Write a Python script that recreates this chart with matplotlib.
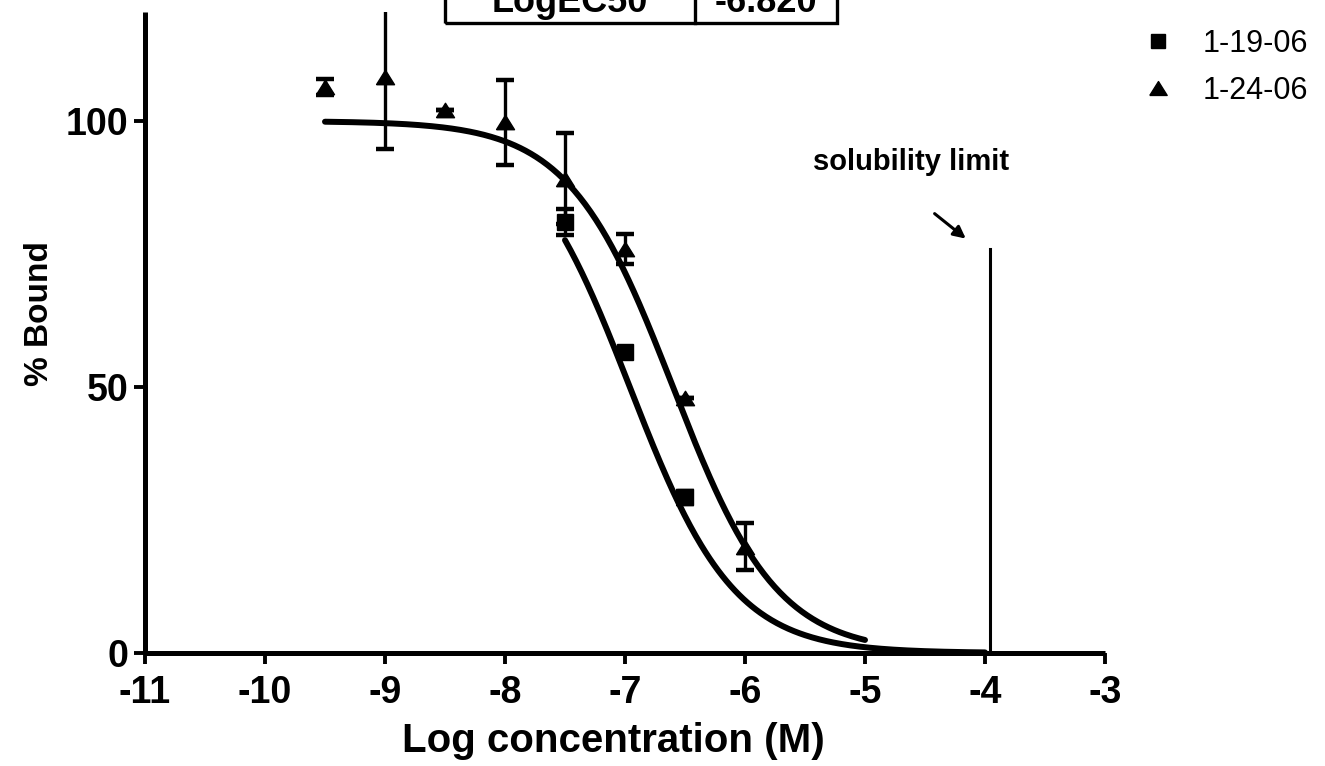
import numpy as np
import matplotlib
matplotlib.use("Agg")
import matplotlib.pyplot as plt
from matplotlib.lines import Line2D
from matplotlib.patches import Rectangle

plt.rcParams['font.family'] = ['Liberation Sans', 'DejaVu Sans']

# --- data -------------------------------------------------------------
series_labels = ["1-19-06", "1-24-06"]

sq_x = [-7.5, -7.0, -6.5]
sq_y = [81.0, 56.5, 29.3]
sq_err = [2.4, 0.8, 1.2]

tri_x = [-9.5, -9.0, -8.5, -8.0, -7.5, -7.0, -6.5, -6.0]
tri_y = [106.4, 108.2, 102.0, 99.8, 89.2, 76.0, 48.0, 20.0]
tri_err = [1.5, 13.4, 0.0, 8.0, 8.6, 2.8, 0.0, 4.4]

# sigmoidal dose-response fits: top, bottom, logEC50, hill slope, x-range
fit_sq = dict(top=100.0, bottom=0.0, logec50=-6.96, hill=1.0, xmin=-7.5, xmax=-4.0)
fit_tri = dict(top=100.0, bottom=0.0, logec50=-6.60, hill=1.0, xmin=-9.5, xmax=-5.0)

table_cells = ["LogEC50", "-6.820"]

solubility_x = -3.96
solubility_top = 76.0

x_ticks = [-11, -10, -9, -8, -7, -6, -5, -4, -3]
y_ticks = [0, 50, 100]


def dose_response(p, n=300):
    x = np.linspace(p["xmin"], p["xmax"], n)
    y = p["bottom"] + (p["top"] - p["bottom"]) / (1 + 10 ** ((x - p["logec50"]) * p["hill"]))
    return x, y


# --- figure -----------------------------------------------------------
W, H = 1325, 766
fig = plt.figure(figsize=(W / 100, H / 100), dpi=100)
ax = fig.add_axes([145 / W, (H - 653) / H, 960 / W, 641 / H])

ax.set_xlim(-11, -3)
ax.set_ylim(0, 120.5)

for s in ("top", "right"):
    ax.spines[s].set_visible(False)
for s in ("left", "bottom"):
    ax.spines[s].set_linewidth(3.6)
    ax.spines[s].set_capstyle("butt")

ax.set_xticks(x_ticks)
ax.set_yticks(y_ticks)
ax.set_xticklabels([str(t) for t in x_ticks])
ax.tick_params(axis="both", direction="out", length=8, width=2.8, labelsize=27)
ax.tick_params(axis="x", pad=8)
ax.tick_params(axis="y", pad=4)
for lab in ax.get_xticklabels() + ax.get_yticklabels():
    lab.set_fontweight("bold")

ax.set_xlabel("Log concentration (M)", fontsize=29, fontweight="bold")
ax.xaxis.set_label_coords(0.488, -(741 - 653) / 641)
ax.xaxis.label.set_va("center")
ax.set_ylabel("% Bound", fontsize=24, fontweight="bold")
ax.yaxis.set_label_coords(-(145 - 55) / 960, (653 - 314) / 641)

# fitted curves
for p in (fit_sq, fit_tri):
    cx, cy = dose_response(p)
    ax.plot(cx, cy, color="black", lw=4.3, solid_capstyle="round", zorder=2)

tri_marker = [(-1.0, -0.8), (1.0, -0.8), (0.0, 0.8), (-1.0, -0.8)]

ax.errorbar(tri_x, tri_y, yerr=tri_err, fmt="none", ecolor="black",
            elinewidth=2.4, capsize=6.5, capthick=3.2, zorder=3)
ax.errorbar(sq_x, sq_y, yerr=sq_err, fmt="none", ecolor="black",
            elinewidth=2.4, capsize=6.5, capthick=3.2, zorder=3)
ax.plot(tri_x, tri_y, linestyle="none", marker=tri_marker, markersize=13,
        color="black", zorder=4)
ax.plot(sq_x, sq_y, linestyle="none", marker="s", markersize=11.5,
        color="black", zorder=4)

# solubility limit marker
ax.plot([solubility_x, solubility_x], [0, solubility_top], color="black", lw=2.2, zorder=2)
ax.annotate("", xy=(-4.16, 77.9), xytext=(-4.42, 82.6),
            arrowprops=dict(arrowstyle="-|>", color="black", lw=2.2,
                            mutation_scale=18, shrinkA=0, shrinkB=0))
ax.text(-4.62, 92.3, "solubility limit", fontsize=21, fontweight="bold",
        ha="center", va="center")

# legend
handles = [
    Line2D([], [], linestyle="none", marker="s", markersize=10.5, color="black"),
    Line2D([], [], linestyle="none", marker=tri_marker, markersize=12.5, color="black"),
]
fig.legend(handles, series_labels, loc="upper left",
           bbox_to_anchor=(1140 / W, 1 - 29 / H), frameon=False,
           fontsize=22, handlelength=1.2, handletextpad=0.85, labelspacing=0.55,
           borderpad=0, borderaxespad=0)

# results table, partly running off the top edge
px = lambda x: x / W
py = lambda y: 1 - y / H
fig.add_artist(Rectangle((px(445), py(23)), px(837) - px(445), py(-40) - py(23),
                         transform=fig.transFigure, fill=False, lw=2.4,
                         edgecolor="black", clip_on=False))
fig.add_artist(Line2D([px(695), px(695)], [py(23), py(-40)], transform=fig.transFigure,
                      color="black", lw=2.4))
fig.text(px(570), py(12), table_cells[0], fontsize=26, fontweight="bold",
         ha="center", va="baseline")
fig.text(px(766), py(12), table_cells[1], fontsize=26, fontweight="bold",
         ha="center", va="baseline")

fig.savefig("out.png", dpi=100)
